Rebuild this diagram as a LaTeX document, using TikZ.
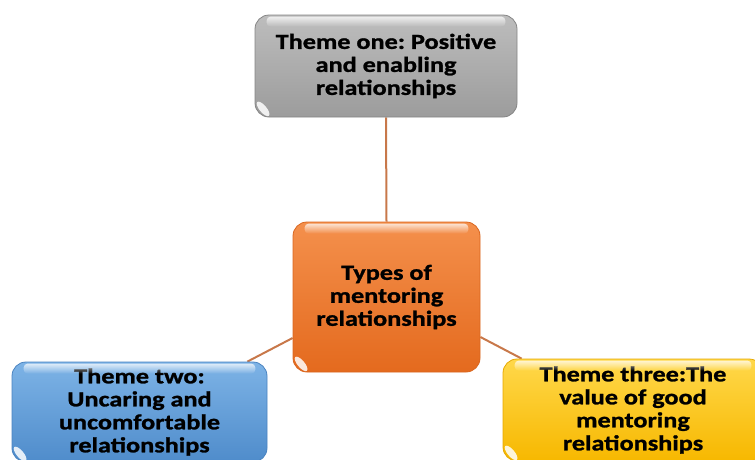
\documentclass[tikz,border=0pt]{standalone}
\usepackage{fontspec}
\usetikzlibrary{backgrounds,fadings}
\newfontfamily\boxfamily[FakeStretch=1.22,FakeBold=1.2]{Carlito}
\newcommand{\boxtext}{\boxfamily\bfseries\frenchspacing\fontsize{21.5}{23}\selectfont}

\definecolor{grayTop}{HTML}{BDBDBD}
\definecolor{grayBot}{HTML}{9C9C9C}
\definecolor{grayEdge}{HTML}{858585}
\definecolor{orTop}{HTML}{F4904C}
\definecolor{orBot}{HTML}{E46A1E}
\definecolor{orEdge}{HTML}{D9661F}
\definecolor{blTop}{HTML}{7DB3E6}
\definecolor{blBot}{HTML}{4F8CCB}
\definecolor{blEdge}{HTML}{4A83C0}
\definecolor{yeTop}{HTML}{FFD84A}
\definecolor{yeBot}{HTML}{F7B800}
\definecolor{yeEdge}{HTML}{E6A800}
\definecolor{linkCol}{HTML}{C8784A}

\tikzset{
  themebox/.style={rounded corners=14pt, align=center, font=\boxtext,
    inner sep=0pt, text=black, line width=0.8pt},
  graybox/.style={themebox, top color=grayTop, bottom color=grayBot, draw=grayEdge},
  orangebox/.style={themebox, top color=orTop, bottom color=orBot, draw=orEdge},
  bluebox/.style={themebox, top color=blTop, bottom color=blBot, draw=blEdge},
  yellowbox/.style={themebox, top color=yeTop, bottom color=yeBot, draw=yeEdge},
  link/.style={draw=linkCol, line width=2pt},
  shine/.style={fill=white, opacity=0.75, path fading=south, rounded corners=4pt},
  glint/.style={fill=white, opacity=0.85}
}

% glossy highlights on a box: a band under the top edge and a glint in the lower left corner
\newcommand{\gloss}[1]{%
  \fill[shine] ([xshift=12pt,yshift=-2pt]#1.north west) rectangle ([xshift=-12pt,yshift=-12pt]#1.north east);
  \fill[glint] ([xshift=8.5pt,yshift=8.5pt]#1.south west) ellipse[x radius=9pt, y radius=3.5pt, rotate=-50];
}

\begin{document}
\begin{tikzpicture}[x=1pt, y=-1pt]
  \useasboundingbox (0,0) rectangle (755,459);
  \clip (0,0) rectangle (755,459);

  \node[graybox, minimum width=262pt, minimum height=102pt] (one) at (386,66)
    {Theme one: Positive\\and enabling\\relationships};
  \node[orangebox, minimum width=187pt, minimum height=150pt] (core) at (386.5,297)
    {Types of\\mentoring\\relationships};
  \node[bluebox, minimum width=255pt, minimum height=100pt] (two) at (139.5,412)
    {Theme two:\\Uncaring and\\uncomfortable\\relationships};
  \node[yellowbox, minimum width=260pt, minimum height=102pt] (three) at (633,410)
    {Theme three:The\\value of good\\mentoring\\relationships};

  \gloss{one}
  \gloss{core}
  \gloss{two}
  \gloss{three}

  % end points of the connectors on the box borders
  \coordinate (core-l) at ([yshift=-41pt]core.west);
  \coordinate (core-r) at ([yshift=-40pt]core.east);
  \coordinate (two-t) at ([xshift=-20pt]two.north east);
  \coordinate (three-t) at ([xshift=19pt]three.north west);

  \begin{pgfonlayer}{background}
    \draw[link] (one.south) -- (core.north);
    \draw[link] (core-l) -- (two-t);
    \draw[link] (core-r) -- (three-t);
  \end{pgfonlayer}
\end{tikzpicture}
\end{document}
